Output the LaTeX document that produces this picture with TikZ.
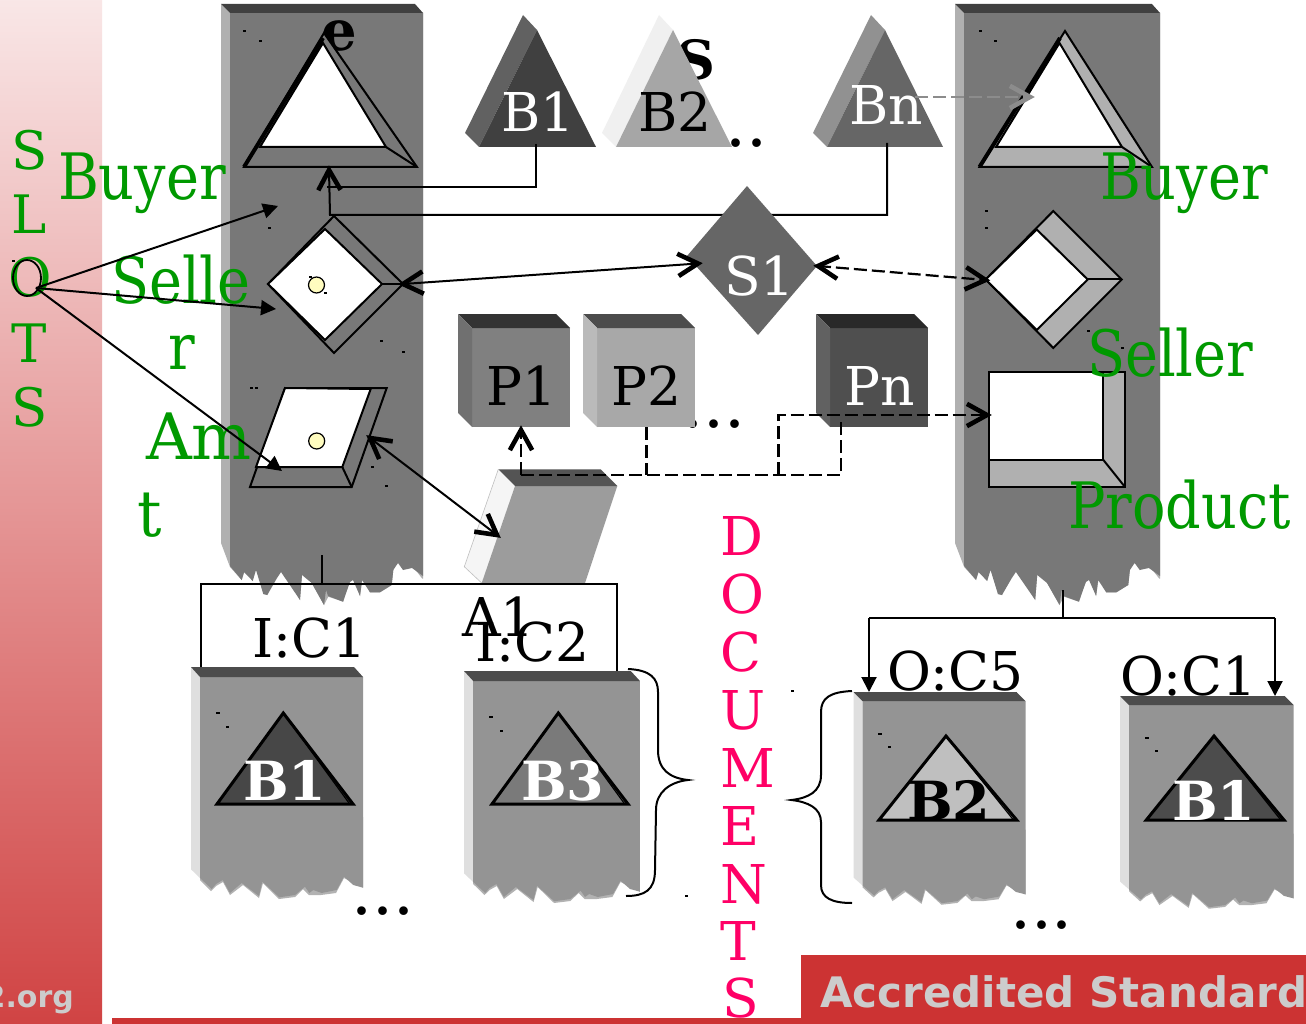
\documentclass[tikz,border=0pt]{standalone}
\usepackage{fontspec}
\setmainfont{DejaVu Serif}
\setsansfont{DejaVu Sans}
\usetikzlibrary{arrows.meta,calc}
\definecolor{grn}{HTML}{009900}
\definecolor{pnk}{HTML}{FF0066}
\definecolor{red1}{HTML}{CC3333}
\definecolor{colf}{HTML}{787878}
\definecolor{colt}{HTML}{404040}
\definecolor{coll}{HTML}{B0B0B0}
\tikzset{
  fhead/.tip={Triangle[length=15pt,width=15pt]},
  conn/.style={draw=black,line width=2pt},
  dashc/.style={draw=black,line width=2.2pt,dash pattern=on 13pt off 5pt},
  lab/.style={anchor=base west,inner sep=0pt,outer sep=0pt},
  edge3/.style={draw=black,line width=2pt,line join=miter},
}
\newcommand\barbat[3][black]{\draw[draw=#1,line width=4.6pt,line join=miter] ($(#3)!23pt!29:(#2)$) -- (#3) -- ($(#3)!23pt!-29:(#2)$);}
\newcommand\gl[5]{\node[lab,text=grn] (#1) at (#2,#3) {\scalebox{#4}[1]{\fontsize{64}{64}\selectfont #5}};}
\newcommand\bl[5]{\node[lab,text=#4] (#1) at (#2,#3) {\fontsize{53.5}{53.5}\selectfont #5};}
\newcommand\bbl[5]{\node[lab,text=#4] (#1) at (#2,#3) {\fontsize{54}{54}\selectfont\bfseries #5};}
\newcommand\dotsnode[3]{\node[lab,text=black] (#1) at (#2,#3) {\fontsize{66}{66}\selectfont ...};}
\newcommand\speck[2]{\fill[black] (#1-1.5,#2-1) rectangle (#1+1.5,#2+1);}
\newcommand\ColumnBody{%
  \fill[coll] (221,4) -- (230,13) -- (423,13) -- (423,578.7) -- (422.3,578.7) -- (411.7,565) -- (401.7,547.3) -- (393.3,570) -- (391.7,585) -- (380,592.3) -- (370,592.3) -- (362.7,577.3) -- (360,596) -- (351.7,572.3) -- (343.3,601.7) -- (328.3,596.7) -- (324,605) -- (311.7,583) -- (303.3,558) -- (300,600) -- (279.3,564) -- (267.3,595) -- (263.3,594) -- (257.3,555) -- (252.7,580.7) -- (245,570) -- (241.7,580) -- (230,567) -- (221,543) -- cycle;
  \fill[colf] (230,13) -- (423,13) -- (423,576) -- (412,568) -- (403,570) -- (398,563) -- (393.3,570) -- (391.7,585) -- (380,592.3) -- (370,592.3) -- (362,580) -- (360,596) -- (353,580) -- (350,582) -- (343,601.7) -- (328,596) -- (326,590) -- (324,605) -- (311.7,583) -- (302,575) -- (300,600) -- (281,572) -- (277,578) -- (267.3,595) -- (263.3,594) -- (256,570) -- (252.7,581) -- (244,572) -- (241.7,580) -- (230,566) -- cycle;
  \fill[colt] (221,4) -- (415,4) -- (423,13) -- (230,13) -- cycle;
}
\newcommand\PanelBody[4]{%
  \begin{scope}[shift={(#1,#2)},xscale=#3,yscale=#4]
    \fill[gray!60] (9,150) -- (172,150) -- (172,220.7) -- (153,211) -- (145,226) -- (130,228) -- (118,228) -- (112,222) -- (104,230) -- (88,232) -- (72,216) -- (68,231) -- (52,218) -- (39,228) -- (32,215) -- (25,219) -- (20,224) -- (9,213) -- cycle;
    \fill[gray!25] (0,0) -- (9,10) -- (9,211) -- (0,202.3) -- cycle;
    \fill[black!42] (9,10) -- (172,10) -- (172,220.7) -- (162.3,218) -- (153,209.7) -- (145.7,223) -- (130.7,226) -- (122.3,223) -- (118.3,226) -- (114,219.7) -- (104,228) -- (88.3,230.3) -- (71.3,214.7) -- (68,229) -- (50.7,216) -- (39,226) -- (31.7,213) -- (25,217) -- (20.7,222) -- (9,211) -- cycle;
    \fill[black!70] (0,0) -- (163,0) -- (172,10) -- (9,10) -- cycle;
    \fill[black] (24.7,44.7) rectangle (28.7,46.7);
    \fill[black] (34.8,58.7) rectangle (37.8,60.7);
  \end{scope}
}
\newcommand\PTri[6]{%
  \draw[fill=#6,line width=3pt,line join=miter] (#1,#2) -- (#3,#5) -- (#4,#5) -- cycle;
  \draw[line width=1.2pt] (#1,#2) -- (#4-4,#5-1);
}
\newcommand\Cube[5]{%
  \fill[#3] (#1+14,#2+14) rectangle (#1+112,#2+113);
  \fill[#4] (#1,#2) -- (#1+98,#2) -- (#1+112,#2+14) -- (#1+14,#2+14) -- cycle;
  \fill[#5] (#1,#2) -- (#1+14,#2+14) -- (#1+14,#2+113) -- (#1,#2+99) -- cycle;
}
\newcommand\Tri[5]{%
  \fill[#5] (#1,133) -- (#2,15) -- (#2+14,30) -- (#1+14,147) -- cycle;
  \fill[#4] (#2+14,30) -- (#3,147) -- (#1+14,147) -- cycle;
}
\begin{document}
\begin{tikzpicture}[x=1pt,y=-1pt]
\useasboundingbox (0,0) rectangle (1306,1024);
\fill[white] (0,0) rectangle (1306,1024);
% left band and bottom bars
\shade[top color=red1!12,bottom color=red1!92] (0,0) rectangle (102,1024);
\fill[red1] (112,1018) rectangle (1306,1024);
\fill[red1] (801,955) rectangle (1306,1024);
\node[anchor=base east,inner sep=0pt,text=black!20] (orgtxt) at (74,1007) {\fontsize{30}{30}\selectfont\sffamily\bfseries 2.org};
\node[anchor=base west,inner sep=0pt,text=black!20] (stdtxt) at (820,1007) {\fontsize{42}{42}\selectfont\sffamily\bfseries Accredited Standard};
% SLOTS
\node[lab,text=grn] (slS) at (12,170) {\fontsize{53}{53}\selectfont S};
\node[lab,text=grn] (slL) at (12,234) {\fontsize{53}{53}\selectfont L};
\node[lab,text=grn] (slO) at (9,296) {\fontsize{53}{53}\selectfont O};
\node[lab,text=grn] (slT) at (11,362) {\fontsize{53}{53}\selectfont T};
\node[lab,text=grn] (slS2) at (12,426) {\fontsize{53}{53}\selectfont S};
% columns
\begin{scope}\ColumnBody\end{scope}
\begin{scope}[shift={(955,0)},xscale=1.015,shift={(-221,0)}]\ColumnBody\end{scope}
% specks on columns and around
\speck{244}{31}\speck{260}{41}\speck{269}{228}\speck{381}{341}\speck{403}{352}
\speck{251}{388}\speck{256}{388}\speck{372}{467}\speck{386}{486}
\speck{980}{31}\speck{995}{41}\speck{986}{211}\speck{986}{228}\speck{1088}{331}\speck{1122}{348}
\speck{792}{691}\speck{686}{896}\speck{13}{261}
% bold fragments
\node[lab,text=black] (fragE) at (321,51) {\fontsize{56}{56}\selectfont\bfseries e};
\node[lab,text=black] (fragS) at (676,80) {\fontsize{54}{54}\selectfont\bfseries S};
% left column slots
\draw[edge3,fill=colf] (324,33) -- (417,167) -- (244,167) -- cycle;
\draw[edge3,fill=white] (323,43) -- (386,147) -- (260,147) -- cycle;
\draw[line width=4pt] (244,167) -- (323,38);
\draw[edge3] (386,147) -- (417,167);
\draw[edge3,fill=colf] (334,216) -- (403,284) -- (334,353) -- (268,284) -- cycle;
\draw[edge3,fill=white] (325,229) -- (382,284) -- (325,340) -- (268,284) -- cycle;
\draw[edge3] (382,284) -- (403,284);
\draw[draw=black,line width=1.2pt,fill=yellow!25] (316.5,285) circle (8);
\speck{310}{277}\speck{325}{293}
\draw[edge3,fill=colf] (285,388) -- (386.7,388) -- (351.7,487) -- (250,487) -- cycle;
\draw[edge3,fill=white] (285,388) -- (370.7,389) -- (342.3,467) -- (256,467) -- cycle;
\draw[edge3] (342.3,467) -- (351.7,487);
\draw[draw=black,line width=1.2pt,fill=yellow!25] (316.7,441) circle (8);
% right column slots
\draw[edge3,fill=coll] (1065,31) -- (1152,167) -- (979.5,167) -- cycle;
\draw[edge3,fill=white] (1059.5,43) -- (1122,147) -- (996,147) -- cycle;
\draw[line width=4pt] (979.5,167) -- (1060,38);
\draw[edge3] (1122,147) -- (1152,167);
\draw[edge3,fill=coll] (1053.3,211) -- (1121.7,279.5) -- (1053.3,348) -- (985.7,279.5) -- cycle;
\draw[edge3,fill=white] (1036.7,229.5) -- (1087.7,279.5) -- (1036.7,330) -- (985.7,279.5) -- cycle;
\draw[edge3] (1087.7,279.5) -- (1121.7,279.5);
\draw[edge3,fill=coll] (989,372) rectangle (1125,487);
\draw[edge3,fill=white] (989,372) rectangle (1103,459.5);
\draw[edge3] (1103,459.5) -- (1125,487);
% dots and top triangles
\dotsnode{dots1}{704.5}{147}
\Tri{465}{523}{596}{black!75}{black!62}
\Tri{602}{659}{732}{black!35}{black!6}
\Tri{813}{871}{943}{black!60}{black!43}
\bl{tB1}{501}{132}{white}{B1}
\bl{tB2}{638}{132}{black}{B2}
% cubes
\dotsnode{dots2}{682.5}{427}
\Cube{458}{314}{black!50}{black!80}{black!56}
\Cube{583}{314}{black!34}{black!70}{black!27}
\Cube{816}{314}{black!69}{black!84}{black!62}
\bl{tP1}{486}{405}{black}{P1}
\bl{tP2}{611}{405}{black}{P2}
\bl{tPn}{844}{405}{white}{Pn}
% A1 block
\fill[black!4] (498.3,469.3) -- (515,486) -- (481.7,583) -- (464.3,566.7) -- cycle;
\draw[black!25,line width=.6pt] (498.3,469.3) -- (464.3,566.7) -- (481.7,583);
\fill[black!39] (515,486) -- (617.3,486) -- (585,583) -- (481.7,583) -- cycle;
\fill[black!67] (498.3,469.3) -- (600.7,469.3) -- (617.3,486) -- (515,486) -- cycle;
% panels
\PanelBody{191}{667}{1}{1}
\PanelBody{464}{671}{1.023}{1}
\PanelBody{853.5}{692}{1}{.917}
\PanelBody{1120}{696}{1.01}{.917}
\PTri{283.3}{713}{217}{353}{804}{black!72}
\PTri{558.3}{713}{492}{628}{804}{black!52}
\PTri{946}{736}{879}{1016.7}{820}{black!25}
\PTri{1214}{736}{1146.3}{1284}{820}{black!70}
\bbl{pB1}{243}{800}{white}{B1}
\bbl{pB3}{521}{800}{white}{B3}
\bbl{pB2}{907}{820}{black}{B2}
\bbl{pB1b}{1172}{820}{white}{B1}
% named connector ends
\coordinate (b1foot) at (536,144);
\coordinate (b1turn) at (536,187);
\coordinate (b1end) at (327,187);
\coordinate (bnfoot) at (887,143);
\coordinate (bnturn) at (887,215);
\coordinate (bnend) at (330,215);
\coordinate (trileft) at (329,170);
\coordinate (dleft) at (403,284);
\coordinate (s1left) at (698,263.5);
\coordinate (s1right) at (818,266);
\coordinate (dright) at (985.5,280);
\coordinate (rhomb) at (370,438);
\coordinate (a1side) at (497,535);
\coordinate (p1foot) at (521,430);
\coordinate (busL) at (521,475);
\coordinate (busR) at (841,475);
\coordinate (pnfoot) at (841,421);
\coordinate (p2foot) at (646.5,427);
\coordinate (p2bus) at (646.5,475);
\coordinate (loopB) at (778.5,475);
\coordinate (loopT) at (778.5,415);
\coordinate (rectL) at (987,415);
\coordinate (bnR) at (915,97);
\coordinate (triR) at (1030,97);
\coordinate (slotO) at (36,288);
\coordinate (tipA) at (278,206);
\coordinate (tipB) at (276,309);
\coordinate (tipC) at (282,471);
% connectors behind S1
\draw[conn] (b1foot) -- (b1turn) -- (b1end);
\draw[conn] (bnfoot) -- (bnturn) -- (bnend) -- (trileft);
\barbat{bnend}{trileft}
% S1 diamond
\fill[black!60] (747,186) -- (817,266) -- (758,335) -- (687,256) -- cycle;
\bl{tS1}{724}{295}{white}{S1}
\bl{tBn}{849}{125}{white}{Bn}
\draw[conn] (dleft) -- (s1left);
\barbat{s1left}{dleft}\barbat{dleft}{s1left}
\draw[dashc] (s1right) -- (dright);
\barbat{dright}{s1right}\barbat{s1right}{dright}
\draw[conn] (rhomb) -- (a1side);
\barbat{a1side}{rhomb}\barbat{rhomb}{a1side}
\draw[dashc] (busL) -- (p1foot);
\barbat{busL}{p1foot}
\draw[dashc] (busL) -- (busR) -- (pnfoot);
\draw[dashc] (p2foot) -- (p2bus);
\draw[dashc] (loopB) -- (loopT) -- (rectL);
\barbat{loopT}{rectL}
\draw[draw=gray!90,line width=2pt,dash pattern=on 13pt off 5pt] (bnR) -- (triR);
\barbat[gray!90]{bnR}{triR}
% input and output buses
\coordinate (colL) at (321.5,555);
\coordinate (colLb) at (321.5,584);
\coordinate (inL) at (201,584);
\coordinate (inR) at (617,584);
\coordinate (inLb) at (201,667);
\coordinate (inRb) at (617,671);
\draw[conn] (colL) -- (colLb);
\draw[conn] (inLb) -- (inL) -- (inR) -- (inRb);
\coordinate (colR) at (1063,590);
\coordinate (colRb) at (1063,618);
\coordinate (outL) at (869,618);
\coordinate (outR) at (1275,618);
\coordinate (outLb) at (869,692);
\coordinate (outRb) at (1275,696);
\draw[conn] (colR) -- (colRb);
\draw[conn,-fhead] (outR) -- (outRb);
\draw[conn,-fhead] (outL) -- (outLb);
\draw[conn] (outL) -- (outR);
% braces
\coordinate (brAa) at (628,669);
\coordinate (brAb) at (626,896);
\coordinate (brAtip) at (688,780);
\coordinate (brBa) at (852,691);
\coordinate (brBb) at (852,903);
\coordinate (brBtip) at (791.5,800);
\draw[line width=2pt] (brAa) .. controls (650,670) and (658,678) .. (658,692) -- (658,750) .. controls (658,770) and (670,778) .. (brAtip) .. controls (670,782) and (656,792) .. (656,810) -- (655,870) .. controls (655,890) and (645,896) .. (brAb);
\draw[line width=2pt] (brBa) .. controls (830,692) and (821,698) .. (821,712) -- (821,775) .. controls (821,792) and (808,798) .. (brBtip) .. controls (808,802) and (821,808) .. (821,822) -- (821,885) .. controls (821,898) and (832,903) .. (brBb);
% text labels
\bl{lIC1}{252}{657}{black}{I:C1}
\bl{lA1}{462}{636}{black}{A1}
\bl{lIC2}{475}{661}{black}{I:C2}
\bl{lOC5}{887}{690}{black}{O:C5}
\bl{lOC1}{1120}{695}{black}{O:C1}
\dotsnode{dots3}{351.5}{914}
\dotsnode{dots4}{1010}{928}
\bl{dD}{720}{555}{pnk}{D}
\bl{dO}{720}{613}{pnk}{O}
\bl{dC}{720}{671}{pnk}{C}
\bl{dU}{720}{729}{pnk}{U}
\bl{dM}{720}{787}{pnk}{M}
\bl{dE}{720}{845}{pnk}{E}
\bl{dN}{720}{903}{pnk}{N}
\bl{dT}{720}{960}{pnk}{T}
\bl{dS}{722}{1017}{pnk}{S}
\gl{gBuyerL}{58}{200}{.87}{Buyer}
\gl{gSelle}{111}{303}{.87}{Selle}
\gl{gr}{168}{369}{.87}{r}
\gl{gAm}{146}{459}{.99}{Am}
\gl{gt}{137}{536}{.95}{t}
\gl{gBuyerR}{1100}{200}{.87}{Buyer}
\gl{gSeller}{1087}{376}{.87}{Seller}
\gl{gProduct}{1068}{528}{.87}{Product}
% SLOT fan-out
\draw[line width=1.8pt] (27,278) circle[x radius=14,y radius=18];
\draw[conn,-fhead] (slotO) -- (tipA);
\draw[conn,-fhead] (slotO) -- (tipB);
\draw[conn,-fhead] (slotO) -- (tipC);
\end{tikzpicture}
\end{document}
